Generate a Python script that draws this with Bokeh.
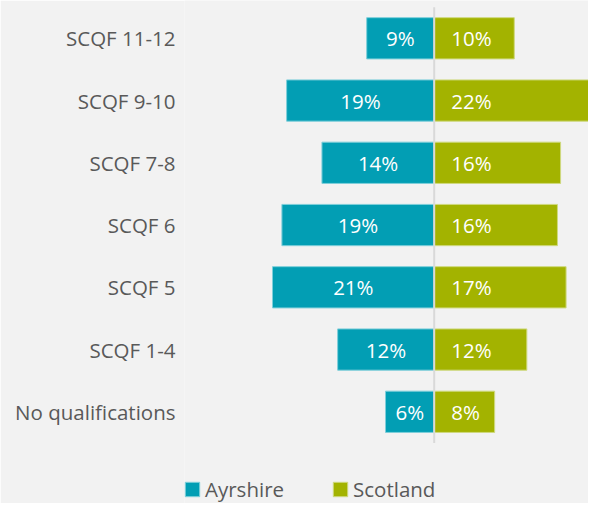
from bokeh.plotting import figure
from bokeh.models import ColumnDataSource, FixedTicker, Legend, LegendItem, Range1d
from bokeh.core.properties import value
from bokeh.embed import file_html
from bokeh.resources import INLINE

categories = ["SCQF 11-12", "SCQF 9-10", "SCQF 7-8", "SCQF 6", "SCQF 5", "SCQF 1-4", "No qualifications"]
ayrshire = [8.6, 18.8, 14.3, 19.4, 20.6, 12.3, 6.2]
scotland = [10.2, 22.4, 16.1, 15.7, 16.8, 11.8, 7.7]
series_names = ["Ayrshire", "Scotland"]

TEAL = "#029EB4"
GREEN = "#A3B300"
BG = "#F2F2F2"
GREY = "#595959"
FONT = "Open Sans"

n = len(categories)
ys = [n - 1 - i for i in range(n)]

src = ColumnDataSource(dict(
    y=ys,
    cat=categories,
    ayr_left=[-v for v in ayrshire],
    ayr_mid=[-v / 2 for v in ayrshire],
    sco=scotland,
    ayr_lab=[f"{round(v)}%" for v in ayrshire],
    sco_lab=[f"{round(v)}%" for v in scotland],
))

W, H = 588, 503
frame_left = 184
px_per_pct = 7.85
zero_px = 433.7 - frame_left
row_px = 62.25
top_row_px = 37.8
y_end = (n - 1) + top_row_px / row_px
y_start = y_end - H / row_px

p = figure(
    width=W, height=H,
    x_range=Range1d(-zero_px / px_per_pct, (W - frame_left - zero_px) / px_per_pct),
    y_range=Range1d(y_start, y_end),
    output_backend="svg", toolbar_location=None,
    min_border_left=frame_left, min_border_right=0, min_border_top=0, min_border_bottom=0,
    background_fill_color=BG, border_fill_color=BG, outline_line_color=None,
)

bar_h = 0.663
r_ayr = p.hbar(y="y", left="ayr_left", right=0, height=bar_h, source=src,
               fill_color=TEAL, line_color="#7FCFDA", line_width=1)
r_sco = p.hbar(y="y", left=0, right="sco", height=bar_h, source=src,
               fill_color=GREEN, line_color="#CFD97F", line_width=1)

p.segment(x0=0, y0=-0.5, x1=0, y1=n - 0.5, line_color="#D9D9D9", line_width=2)

p.text(x="ayr_mid", y="y", text="ayr_lab", source=src, text_align="center",
       text_baseline="middle", text_color="white", text_font=value(FONT),
       text_font_size="20.5px")
p.text(x=0, y="y", text="sco_lab", source=src, text_align="left", x_offset=17,
       text_baseline="middle", text_color="white", text_font=value(FONT),
       text_font_size="20.5px")

p.xaxis.visible = False
p.xgrid.visible = False
p.ygrid.visible = False
yax = p.yaxis[0]
yax.ticker = FixedTicker(ticks=ys)
yax.major_label_overrides = {y: c for y, c in zip(ys, categories)}
yax.axis_line_color = None
yax.major_tick_line_color = None
yax.minor_tick_line_color = None
yax.major_tick_out = 0
yax.major_tick_in = 0
yax.major_label_standoff = 9
yax.major_label_text_font = FONT
yax.major_label_text_font_size = "20.5px"
yax.major_label_text_color = GREY

legend = Legend(
    items=[LegendItem(label=series_names[0], renderers=[r_ayr]),
           LegendItem(label=series_names[1], renderers=[r_sco])],
    orientation="horizontal", location=(-1, 0),
    padding=0, margin=0, spacing=47, label_standoff=4,
    glyph_width=18, glyph_height=18, label_height=18,
    border_line_color=None, background_fill_alpha=0,
    label_text_font=FONT, label_text_font_size="20.5px", label_text_color=GREY,
)
p.add_layout(legend, "center")

open("out.html", "w").write(file_html(p, INLINE))
